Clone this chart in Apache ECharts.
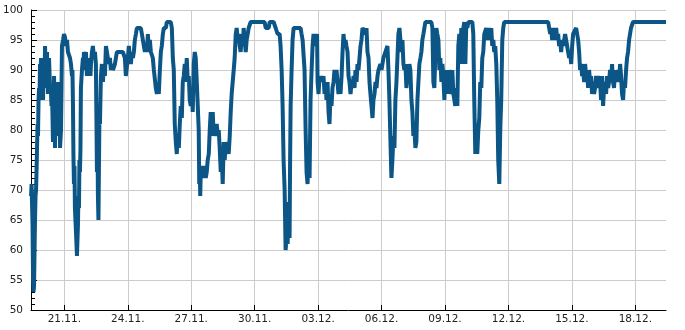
<!DOCTYPE html>
<html>
<head>
<meta charset="utf-8">
<script src="https://cdn.jsdelivr.net/npm/echarts@6/dist/echarts.min.js"></script>
<style>html,body{margin:0;padding:0;background:#fff}#c{width:685px;height:330px}</style>
</head>
<body>
<div id="c"></div>
<script>
// hours since 19.11. 00:00
const hours = [10.2,10.8,11.3,11.9,12.5,13.0,13.6,14.2,14.7,15.3,15.9,16.4,17.0,17.6,18.1,18.7,19.3,19.8,20.4,21.0,21.5,22.7,23.2,23.8,24.9,25.5,26.1,27.2,28.3,29.5,30.6,31.7,32.9,33.4,34.0,34.6,35.1,35.7,36.3,36.8,37.4,38.0,38.5,39.1,39.7,40.8,41.4,41.9,42.5,43.1,44.2,44.8,45.3,46.5,47.6,48.7,49.9,51.0,52.1,53.3,54.4,55.5,56.7,57.2,57.8,58.3,58.9,59.5,60.0,61.2,62.3,63.4,64.0,64.6,65.1,65.7,66.3,66.8,68.0,69.1,69.7,70.2,71.4,72.5,73.6,74.8,75.9,77.0,77.6,78.2,79.3,80.4,81.6,82.7,83.8,84.4,85.0,85.5,86.1,86.7,87.2,87.8,88.4,89.5,90.6,91.8,92.9,94.0,95.2,96.3,97.4,98.6,99.7,100.8,102.0,103.1,105.4,106.5,107.6,109.9,114.4,116.7,117.8,119.0,120.1,121.2,122.4,123.5,124.6,125.8,126.9,128.0,129.2,130.3,134.8,136.0,137.1,138.2,139.4,140.5,141.6,142.8,143.9,145.0,146.2,147.3,148.4,149.6,150.7,151.8,153.0,154.1,155.2,156.4,157.5,158.6,159.8,160.9,163.2,164.3,168.8,170.0,171.1,172.2,173.3,174.5,175.6,176.7,177.9,179.0,180.1,181.3,182.4,183.5,184.7,185.8,186.9,188.1,189.2,190.3,191.5,192.6,193.7,194.9,196.0,197.1,198.3,199.4,200.5,201.1,201.7,202.2,202.8,203.9,205.1,206.2,207.3,208.5,209.6,210.7,211.9,213.0,214.1,215.3,216.4,217.5,218.7,219.8,220.9,222.1,223.2,224.3,225.5,226.6,227.7,228.9,230.0,231.1,232.3,233.4,234.5,235.7,236.8,237.9,239.1,240.2,241.3,242.5,243.6,244.7,245.9,247.0,248.1,249.3,250.4,251.5,252.7,253.8,254.9,256.1,257.2,259.5,275.3,276.5,279.9,281.0,285.5,287.8,290.0,292.3,293.4,294.6,295.7,296.8,298.0,299.1,300.2,301.4,302.5,303.6,304.2,304.8,305.9,307.0,308.2,316.1,317.2,318.4,319.5,320.6,321.8,322.9,324.0,325.2,326.3,327.4,328.6,329.7,330.8,332.0,333.1,334.2,334.8,335.4,336.5,337.6,338.7,339.9,341.0,342.1,343.3,344.4,345.5,346.7,347.8,348.9,350.1,351.2,352.3,353.5,354.6,355.7,356.9,358.0,359.1,360.3,361.4,362.6,363.7,364.8,366.0,367.1,368.2,369.4,370.5,371.6,372.8,373.9,375.0,376.2,377.3,378.4,379.6,380.7,381.8,383.0,384.1,385.2,386.4,388.6,389.8,390.9,392.0,393.2,394.3,395.4,396.6,397.7,398.8,400.0,401.1,402.2,403.4,404.5,406.7,407.9,409.0,410.1,412.4,414.7,415.8,416.9,418.1,419.2,420.3,421.5,422.6,423.7,424.9,426.0,427.1,428.3,429.4,430.5,431.7,432.8,433.9,435.1,436.2,437.3,438.5,439.6,440.7,441.9,443.0,444.1,445.3,446.4,447.5,448.7,449.8,450.9,452.1,453.2,454.3,455.5,456.6,457.7,464.5,465.7,466.8,467.9,469.1,470.2,471.3,472.5,473.6,474.7,475.9,477.0,478.1,479.3,480.4,481.5,482.7,483.8,484.9,486.1,487.2,488.3,489.5,490.6,491.7,492.9,494.0,495.1,496.3,497.4,498.5,499.7,500.8,501.9,503.1,504.2,505.3,506.5,511.0,512.1,513.2,514.4,515.5,516.6,517.8,518.9,520.0,521.2,522.3,523.4,524.6,525.7,526.8,528.0,529.1,530.2,531.4,532.5,533.6,534.8,535.9,537.0,538.2,539.3,540.4,541.6,542.7,543.8,545.0,546.1,547.2,597.1,598.2,599.4,600.5,601.6,602.7,603.9,605.0,606.2,607.3,608.4,609.5,610.7,611.8,612.9,614.1,615.2,616.3,617.5,618.6,619.7,620.9,622.0,623.2,624.3,625.4,626.5,628.8,629.9,631.1,632.2,633.3,634.5,635.6,636.7,637.9,639.0,640.1,641.3,642.4,643.5,644.7,645.8,646.9,648.1,649.2,650.3,651.5,652.6,653.7,654.9,656.0,657.1,658.3,659.4,660.5,661.7,662.8,663.9,665.1,666.2,667.3,668.5,669.6,670.7,671.8,673.0,674.1,675.3,676.4,677.5,678.7,679.8,680.9,682.1,683.2,684.3,685.5,686.6,687.7,688.9,690.0,691.1,693.4,730.8];
const values = [69,71,68,64,55,53,54,60,65,69,70,73,77,81,79,85,87,85,91,88,92,86,91,85,92,88,94,87,93,86,92,87,86,84,86,82,78,84,89,83,77,85,88,80,86,79,88,84,88,77,80,87,94,95,96,95.5,94,95,93,93,92,91,89,90,84,76,71,74,67,63,59,64,69,67,75,73,77,87,90,92,90,93,91,93,89,92,89,92,89,91,93,94,92,93,91,82,73,82,69,65,73,82,81,89,91,88,91,89,94,93,92,91,92,90,91,90,91,92,93,93,93,92,89,89,92,94,92,91,93,92,93,95,96,97,97,96,95,94,93,94,93,96,93,95,93,93,92,90,90,87,86,87,86,90,93,94,96,97,97,98,98,97,92,90,81,78,76,79,77,81,84,82,88,89,91,88,92,88,89,85,84,87,83,91,93,92,88,84,80,71,74,69,73,74,74,72,74,72,73,75,76,80,83,79,83,79,80,79,81,79,80,77,73,76,71,78,75,78,76,78,76,79,83,86,86,90,92,96,97,95,96,94,93,96,94,97,95,93,95,96,97,98,98,97,97,98,98,97,96,96,94,90,84,75,70,60,62,61,68,62,75,84,90,95,97,97,96,95,95,90,80,73,71,76,72,85,90,94,96,95,96,94,96,88,86,89,88,89,88,89,86,88,85,88,83,81,86,84,87,88,90,88,90,88,86,88,86,89,93,96,94,95,94,93,89,88,86,88,87,89,87,90,88,91,90,92,94,95,97,97,96,97,93,92,88,86,84,82,85,86,88,87,89,90,91,90,91,92,93,94,90,85,78,72,75,79,77,85,88,92,96,97,95,93,95,91,90,91,87,89,88,91,90,85,83,79,80,77,78,85,88,91,92,93,95,96,97,98,98,97,88,87,93,97,96,95,90,92,88,91,89,85,90,87,90,86,90,88,86,90,86,85,84,87,84,94,96,91,97,91,97,98,91,98,97,98,98,96,85,76,79,76,80,82,88,87,92,93,96,96,97,95,96,97,95,97,94,95,93,94,91,85,75,71,80,85,95,97,98,98,97,96,97,95,97,96,95,97,95,96,94,95,93,95,94,95,96,95,94,93,92,93,91,94,96,96,97,97,95,93,90,91,89,90,88,91,89,90,87,90,88,89,86,88,86,87,89,88,89,87,88,85,89,84,87,88,86,89,87,88,90,88,91,88,87,90,89,88,90,88,91,89,86,85,88,87,90,92,93,95,96,97,98,98];
const tickHours = [48,120,192,264,336,408,480,552,624,696];
const tickLabels = ['21.11.','24.11.','27.11.','30.11.','03.12.','06.12.','09.12.','12.12.','15.12.','18.12.'];

const data = hours.map((h, i) => [h, values[i]]);
const chart = echarts.init(document.getElementById('c'), null, {renderer: 'canvas'});
const font = 'DejaVu Sans';
chart.setOption({
  animation: false,
  backgroundColor: '#ffffff',
  grid: {left: 30, right: 19, top: 10, bottom: 20, containLabel: false},
  xAxis: {
    type: 'value',
    min: 'dataMin', max: 'dataMax',
    axisLine: {show: true, onZero: false, lineStyle: {color: '#000', width: 1}},
    axisTick: {show: true, inside: true, length: 5, lineStyle: {color: '#000'}, customValues: tickHours},
    axisLabel: {
      customValues: tickHours, margin: 4, color: '#222', fontFamily: font, fontSize: 10.5,
      formatter: v => { const i = tickHours.indexOf(v); return i >= 0 ? tickLabels[i] : ''; }
    },
    splitLine: {show: true, lineStyle: {color: '#cccccc', width: 1}}
  },
  yAxis: {
    type: 'value', min: 50, max: 100, interval: 5,
    axisLine: {show: true, lineStyle: {color: '#000', width: 1}},
    axisTick: {show: true, inside: true, length: 6, lineStyle: {color: '#000'}},
    minorTick: {show: true, splitNumber: 5, length: 4, lineStyle: {color: '#000'}},
    axisLabel: {margin: 8, color: '#222', fontFamily: font, fontSize: 10.5},
    splitLine: {show: true, lineStyle: {color: '#cccccc', width: 1}}
  },
  series: [{
    type: 'line', data: data, showSymbol: false, symbol: 'none', sampling: null,
    lineStyle: {color: '#0b5687', width: 4, cap: 'butt', join: 'bevel'}
  }]
});
</script>
</body>
</html>
